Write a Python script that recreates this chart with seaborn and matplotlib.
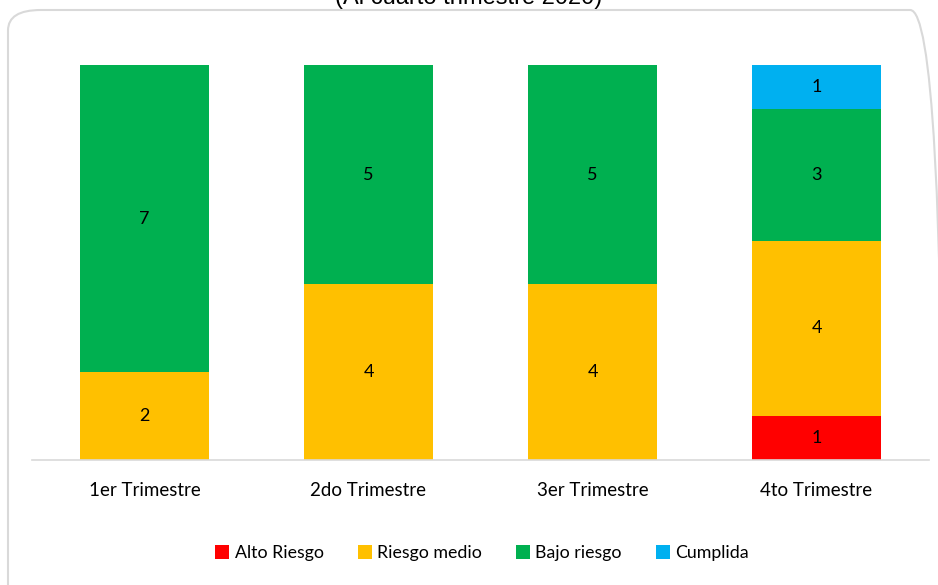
import numpy as np
import pandas as pd
import seaborn as sns
import matplotlib.pyplot as plt
from matplotlib.patches import Patch, FancyBboxPatch

# datos
trimestres = ['1er Trimestre', '2do Trimestre', '3er Trimestre', '4to Trimestre']
alto_riesgo = [0, 0, 0, 1]
riesgo_medio = [2, 4, 4, 4]
bajo_riesgo = [7, 5, 5, 3]
cumplida = [0, 0, 0, 1]

series = ['Alto Riesgo', 'Riesgo medio', 'Bajo riesgo', 'Cumplida']
colores = ['#FF0000', '#FFC000', '#00B050', '#00B0F0']

df = pd.DataFrame({
    'trimestre': trimestres,
    'Alto Riesgo': alto_riesgo,
    'Riesgo medio': riesgo_medio,
    'Bajo riesgo': bajo_riesgo,
    'Cumplida': cumplida,
})

sns.set_style('white')
plt.rcParams['font.family'] = ['Lato', 'DejaVu Sans']

fig = plt.figure(figsize=(9.38, 5.85), dpi=100)
ax = fig.add_axes([32.5 / 938, 125 / 585, 896 / 938, 395 / 585])

# borde redondeado
borde = FancyBboxPatch((8 / 938, -20 / 585), 935 / 938, 595 / 585,
                       boxstyle='round,pad=0,rounding_size=0.035',
                       transform=fig.transFigure, fill=False,
                       edgecolor='#D9D9D9', linewidth=1.5, zorder=0)
fig.patches.append(borde)

# barras apiladas (acumulados, de arriba hacia abajo)
acum = df[series].cumsum(axis=1)
for s, c in reversed(list(zip(series, colores))):
    sns.barplot(x=df['trimestre'], y=acum[s], color=c, width=0.576,
                linewidth=0, saturation=1, ax=ax)

# etiquetas de valores
for i in range(len(trimestres)):
    base = 0
    for s in series:
        v = df[s][i]
        if v > 0:
            ax.text(i, base + v / 2, str(v), ha='center', va='center',
                    fontsize=13, color='#000000')
        base += v

ax.set_ylim(0, 9)
ax.set_xlim(-0.5, 3.5)
ax.set_xlabel('')
ax.set_ylabel('')
ax.set_yticks([])
for sp in ['top', 'right', 'left']:
    ax.spines[sp].set_visible(False)
ax.spines['bottom'].set_color('#D9D9D9')
ax.spines['bottom'].set_linewidth(1.2)
ax.tick_params(axis='x', length=0, labelsize=13.5, labelcolor='#000000', pad=16)

handles = [Patch(facecolor=c, edgecolor='none') for c in colores]
fig.legend(handles, series, loc='center', bbox_to_anchor=(482 / 938, 1 - 553 / 585),
           ncol=4, frameon=False, fontsize=12.8, handlelength=0.8, handleheight=0.8,
           handletextpad=0.3, columnspacing=1.9, labelcolor='#000000')

fig.text(0.5, 1 - 9 / 585, '(Al cuarto trimestre 2020)', ha='center', va='bottom',
         fontsize=17, family=['Liberation Sans', 'DejaVu Sans'], color='#000000')

fig.savefig('out.png', dpi=100)
